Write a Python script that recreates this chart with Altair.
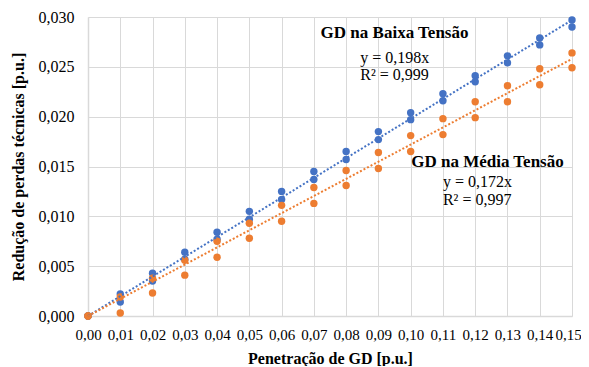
import altair as alt
import pandas as pd

x_vals = [0.00, 0.01, 0.02, 0.03, 0.04, 0.05, 0.06, 0.07, 0.08, 0.09, 0.10, 0.11, 0.12, 0.13, 0.14, 0.15]
bt_a = [0.0, 0.0022, 0.0043, 0.0064, 0.0084, 0.0105, 0.0125, 0.0145, 0.0165, 0.0185, 0.0204, 0.0223, 0.0241, 0.0261, 0.0279, 0.0297]
bt_b = [0.0, 0.0014, 0.0035, 0.0057, 0.0077, 0.0097, 0.0117, 0.0137, 0.0157, 0.0177, 0.0197, 0.0216, 0.0235, 0.0254, 0.0272, 0.0290]
mt_a = [0.0, 0.0019, 0.0038, 0.0056, 0.0075, 0.0093, 0.0111, 0.0129, 0.0146, 0.0164, 0.0181, 0.0198, 0.0215, 0.0231, 0.0248, 0.0264]
mt_b = [0.0, 0.0003, 0.0023, 0.0041, 0.0059, 0.0078, 0.0095, 0.0113, 0.0131, 0.0148, 0.0165, 0.0182, 0.0199, 0.0215, 0.0232, 0.0249]

series = ["GD na Baixa Tensão", "GD na Média Tensão"]
slopes = [0.198, 0.172]
colors = ["#4472C4", "#ED7D31"]
trend_x = [0.0, 0.15]
y_ticks = [0, 0.005, 0.01, 0.015, 0.02, 0.025, 0.03]

rows = []
for i, x in enumerate(x_vals):
    rows.append({"x": x, "y": bt_a[i], "s": series[0]})
    rows.append({"x": x, "y": bt_b[i], "s": series[0]})
for i, x in enumerate(x_vals):
    rows.append({"x": x, "y": mt_a[i], "s": series[1]})
    rows.append({"x": x, "y": mt_b[i], "s": series[1]})
pts = pd.DataFrame(rows)
pts["order"] = pts["s"].map({series[0]: 0, series[1]: 1})

trend = pd.DataFrame([{"x": tx, "y": m * tx, "s": s} for s, m in zip(series, slopes) for tx in trend_x])

ann_titles = pd.DataFrame({
    "x": [0.0950, 0.1238],
    "y": [0.0284, 0.0155],
    "t": series,
})
ann_eq = pd.DataFrame({
    "x": [0.0844, 0.0844, 0.1100, 0.1100],
    "y": [0.0259, 0.0242, 0.0134, 0.0116],
    "t": ["y = 0,198x", "R² = 0,999", "y = 0,172x", "R² = 0,997"],
})

FONT = "Liberation Serif, Times New Roman, DejaVu Serif, serif"
xscale = alt.Scale(domain=[0, 0.15], nice=False, zero=False)
yscale = alt.Scale(domain=[0, 0.03], nice=False)
cscale = alt.Scale(domain=series, range=colors)

xaxis = alt.Axis(values=x_vals, labelExpr="replace(format(datum.value, '.2f'), '.', ',')",
                 title="Penetração de GD [p.u.]", grid=True, ticks=False, labelPadding=11,
                 titlePadding=8, labelOverlap=False, labelFlush=False, labelBound=False,
                 labelFontSize=15,
                 labelOffset=alt.ExprRef("datum.value > 0.145 ? -4 : 0"))
yaxis = alt.Axis(values=y_ticks,
                 labelExpr="replace(format(datum.value, '.3f'), '.', ',')",
                 title="Redução de perdas técnicas [p.u.]", grid=True, ticks=False, labelPadding=14,
                 titlePadding=12, labelOverlap=False, labelFlush=False, labelBound=False)

X = alt.X("x:Q", scale=xscale, axis=xaxis)
Y = alt.Y("y:Q", scale=yscale, axis=yaxis)

points = alt.Chart(pts).mark_circle(size=55, opacity=1).encode(
    x=X, y=Y,
    color=alt.Color("s:N", scale=cscale, legend=None),
    order="order:Q",
)

lines = alt.Chart(trend).mark_line(strokeDash=[2, 2], strokeWidth=2).encode(
    x=X, y=Y,
    color=alt.Color("s:N", scale=cscale, legend=None),
    detail="s:N",
)

titles = alt.Chart(ann_titles).mark_text(font=FONT, fontSize=17, fontWeight="bold", color="black", align="center", baseline="middle").encode(
    x=X, y=Y, text="t:N")

eqs = alt.Chart(ann_eq).mark_text(font=FONT, fontSize=16, color="black", align="left", baseline="middle").encode(
    x=X, y=Y, text="t:N")

chart = alt.layer(points, lines, titles, eqs).properties(
    width=484, height=299,
    autosize=alt.AutoSizeParams(type="none"),
    padding={"left": 80, "top": 9, "right": 9, "bottom": 50},
).configure_view(stroke=None).configure_axis(
    labelFont=FONT, titleFont=FONT, labelFontSize=16, titleFontSize=16, titleFontWeight="bold",
    labelColor="#000000", titleColor="#000000", gridColor="#D9D9D9", gridWidth=1,
    domainColor="#D9D9D9", domainWidth=1.5,
)

chart.save("out.html", embed_options={"renderer": "svg", "actions": False})
